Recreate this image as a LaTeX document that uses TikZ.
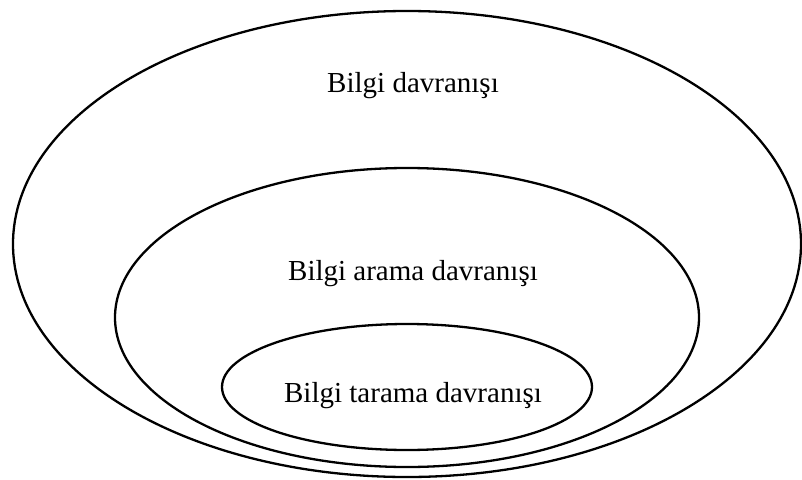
\documentclass[tikz,border=0pt]{standalone}
\usepackage{fontspec}
\setmainfont{Liberation Serif}

\begin{document}
\begin{tikzpicture}[x=1pt,y=-1pt]
		\def\cx{407} % common centre of the ellipses
		\tikzset{ring/.style={line width=2.3pt}, label/.style={anchor=base,inner sep=0pt,font=\fontsize{29}{34}\selectfont}}
		
		\useasboundingbox (0,0) rectangle (802,479);
		
		\draw[ring] (\cx,244) ellipse [x radius=394, y radius=233];
		\draw[ring] (\cx,317.5) ellipse [x radius=292, y radius=149.5];
		\draw[ring] (\cx,387) ellipse [x radius=185, y radius=63];
		
		\node[label] (davranis) at (413,92) {Bilgi davranışı};
		\node[label] (arama) at (413,280) {Bilgi arama davranışı};
		\node[label] (tarama) at (413,402) {Bilgi tarama davranışı};
		
	\end{tikzpicture}
\end{document}
